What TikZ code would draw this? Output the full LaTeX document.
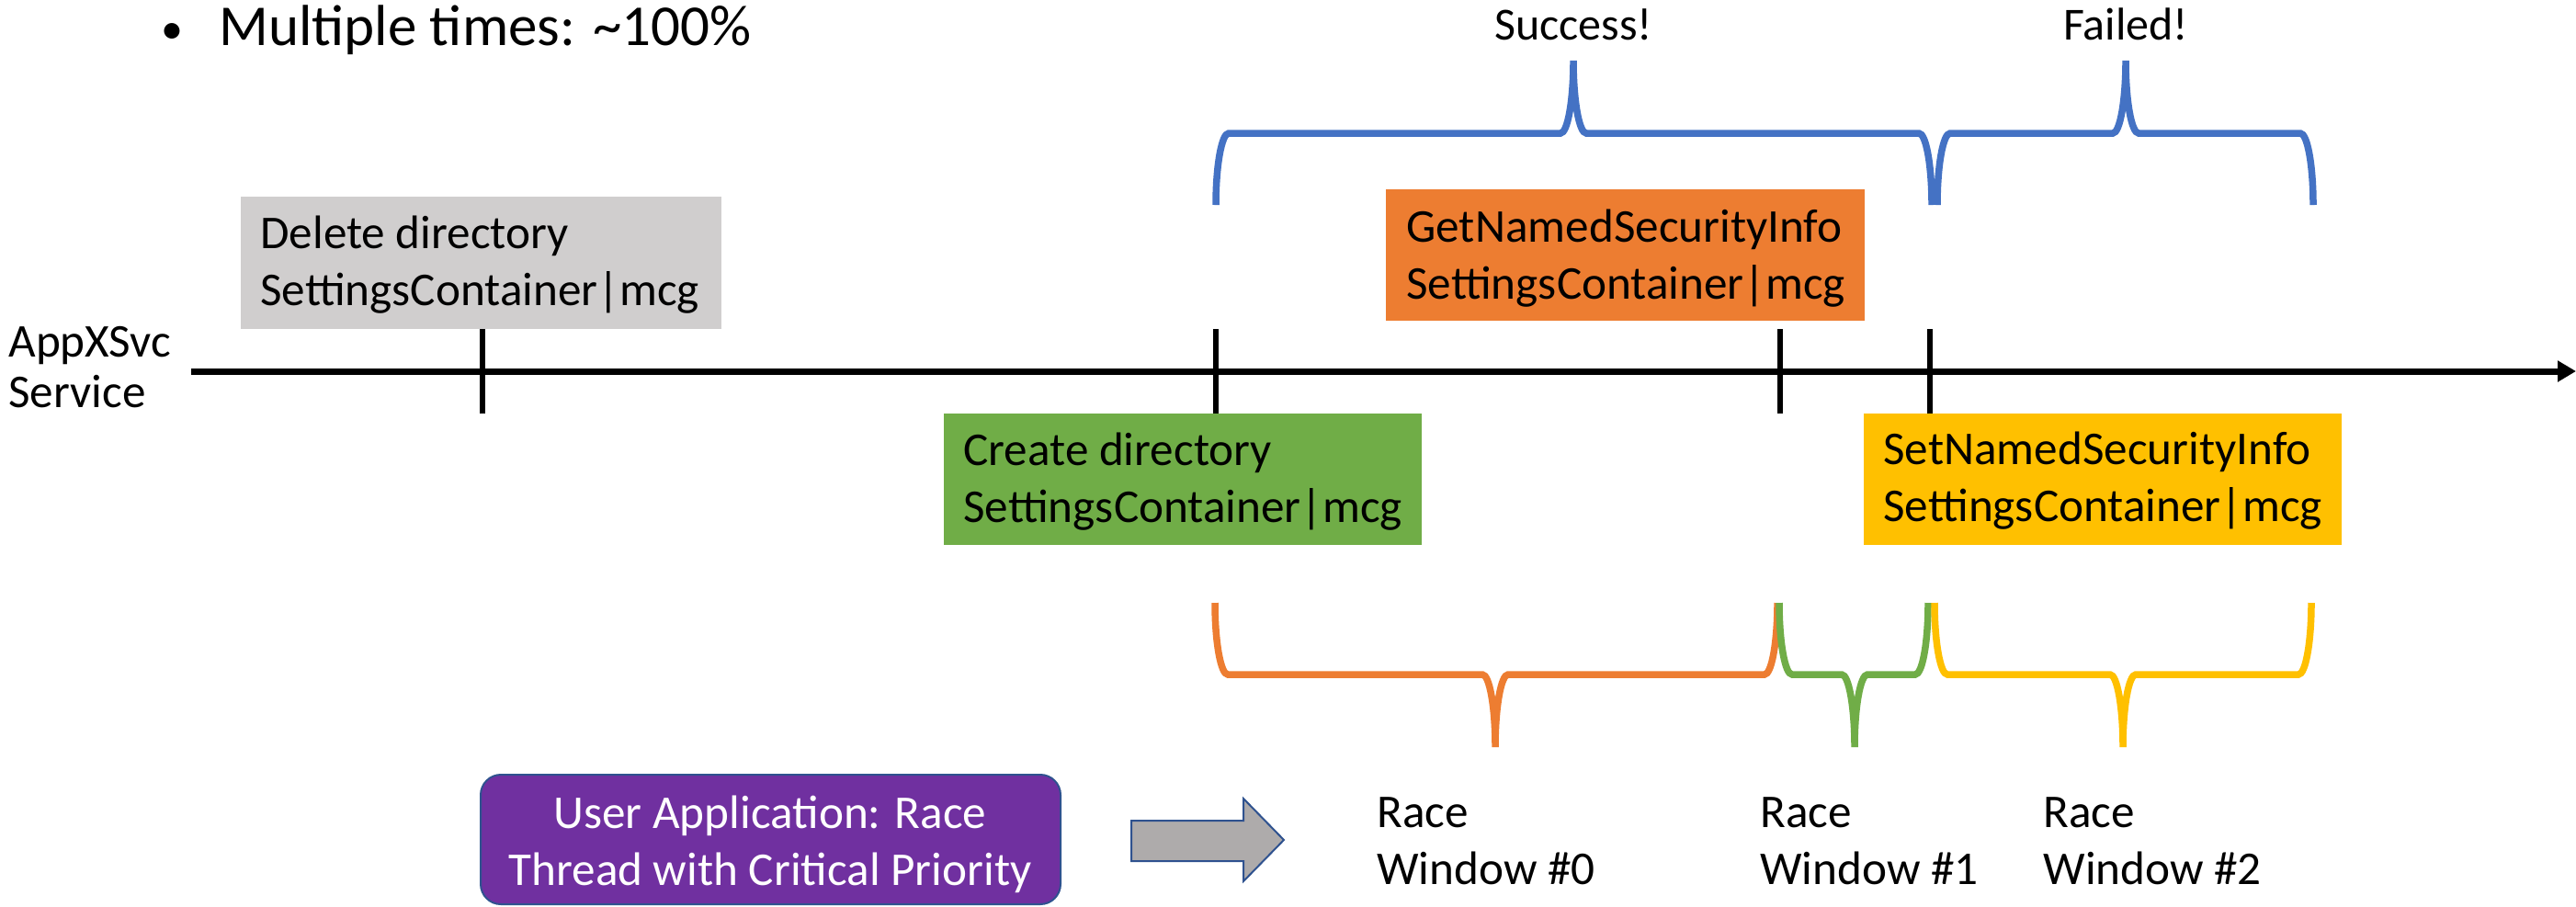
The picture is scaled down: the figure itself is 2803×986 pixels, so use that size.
\documentclass[tikz,border=0pt]{standalone}
\usepackage{fontspec}
\setmainfont{Carlito}
\usetikzlibrary{arrows.meta,fit}
\definecolor{cblue}{HTML}{4472C4}
\definecolor{corange}{HTML}{ED7D31}
\definecolor{cgreen}{HTML}{70AD47}
\definecolor{cyellow}{HTML}{FFC000}
\definecolor{cgray}{HTML}{D0CECE}
\definecolor{cpurple}{HTML}{7030A0}
\definecolor{cborder}{HTML}{2F528F}
\definecolor{carrow}{HTML}{AEABAB}
% #1 colour, #2 left x, #3 tip x, #4 right x, #5 ends y, #6 bar y, #7 tip y, #8 corner radius
\newcommand\cbrace[8]{%
  \draw[bracestyle,#1] (#2,#5) .. controls (#2,{#5+0.55*(#6-#5)}) and ({#2+0.45*#8},#6) .. ({#2+#8},#6)
    -- ({#3-#8},#6) .. controls ({#3-0.45*#8},#6) and (#3,{#7+0.55*(#6-#7)}) .. (#3,#7)
    .. controls (#3,{#7+0.55*(#6-#7)}) and ({#3+0.45*#8},#6) .. ({#3+#8},#6)
    -- ({#4-#8},#6) .. controls ({#4-0.45*#8},#6) and (#4,{#5+0.55*(#6-#5)}) .. (#4,#5);}
\begin{document}
\begin{tikzpicture}[x=0.5pt,y=-0.5pt,
  bracestyle/.style={line width=3.75pt},
  txt/.style={font=\fontsize{25.6pt}{31pt}\selectfont, inner sep=0pt, align=left, anchor=base west},
  evbox/.style={inner sep=0pt, draw=none},
  tickline/.style={line width=3.25pt},
  axisline/.style={line width=3.5pt}]
\useasboundingbox[fill=white] (0,0) rectangle (2803,986);

% title
\node[font=\fontsize{24pt}{30pt}\selectfont, inner sep=0pt, anchor=base] (bullet) at (187,47) {•};
\node[font=\fontsize{31.5pt}{38pt}\selectfont, inner sep=0pt, anchor=base west] (title) at (238,49) {Multiple times: \textasciitilde100\%};

% upper braces
\cbrace{cblue}{1323}{1712}{2102}{223}{145}{66}{14}
\cbrace{cblue}{2108}{2313}{2517}{223}{145}{66}{14}
\node[font=\fontsize{25pt}{30pt}\selectfont, inner sep=0pt, anchor=base] (success) at (1712,43) {Success!};
\node[font=\fontsize{25pt}{30pt}\selectfont, inner sep=0pt, anchor=base] (failed) at (2313,43) {Failed!};

% event boxes (text anchored at the baseline of its last line)
\node[evbox, fill=cgray, fit={(262,214) (785,358)}] (delbox) {};
\node[txt] (deltxt) at (283,332) {Delete directory\\SettingsContainer|mcg};
\node[evbox, fill=corange, fit={(1508,206) (2029,349)}] (getbox) {};
\node[txt] (gettxt) at (1530,325) {GetNamedSecurityInfo\\SettingsContainer|mcg};
\node[evbox, fill=cgreen, fit={(1027,450) (1547,593)}] (crebox) {};
\node[txt] (cretxt) at (1048,568) {Create directory\\SettingsContainer|mcg};
\node[evbox, fill=cyellow, fit={(2028,450) (2548,593)}] (setbox) {};
\node[txt] (settxt) at (2049,567) {SetNamedSecurityInfo\\SettingsContainer|mcg};

% axis
\node[txt, font=\fontsize{25.6pt}{27.5pt}\selectfont] (svc) at (9,443) {AppXSvc\\Service};
\coordinate (axs) at (208,404);
\coordinate (axe) at (2803,404);
\draw[axisline, -{Triangle[length=10pt,width=11pt]}] (axs) -- (axe);
\foreach \x in {525,1323,1937,2100}{
  \draw[tickline] (\x,358) -- (\x,450);
}

% lower braces
\cbrace{corange}{1322}{1627}{1934}{656}{734}{813}{14}
\cbrace{cgreen}{1936}{2018}{2098}{656}{734}{813}{14}
\cbrace{cyellow}{2105}{2310}{2515}{656}{734}{813}{14}

% race windows
\node[txt] (rw0) at (1498,962) {Race\\Window \#0};
\node[txt] (rw1) at (1915,962) {Race\\Window \#1};
\node[txt] (rw2) at (2223,962) {Race\\Window \#2};

% user application
\node[evbox, fill=cpurple, draw=cborder, line width=1pt, rounded corners=11pt, fit={(523,843) (1154,984)}] (userbox) {};
\node[txt, anchor=base, align=center, text=white] (usertxt) at (838,963) {User Application: Race\\Thread with Critical Priority};

% block arrow
\draw[fill=carrow, draw=cborder, line width=1pt]
  (1231,893) -- (1353,893) -- (1353,869) -- (1397,914) -- (1353,959) -- (1353,937) -- (1231,937) -- cycle;
\end{tikzpicture}
\end{document}
